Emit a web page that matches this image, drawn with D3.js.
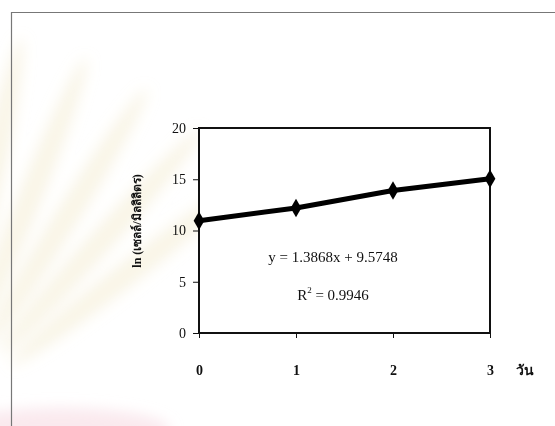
<!DOCTYPE html>
<html>
<head>
<meta charset="utf-8">
<script src="https://cdn.jsdelivr.net/npm/d3@7"></script>
<style>
  body { margin: 0; background: #fff; }
  svg { display: block; }
  text { font-family: "Liberation Serif", "Times New Roman", serif; }
</style>
</head>
<body>
<svg id="svg" width="555" height="426"></svg>
<script>
// day number and ln(cells/ml)
const days = [0, 1, 2, 3];
const lnCells = [10.95, 12.2, 13.9, 15.05];
const yTicks = [0, 5, 10, 15, 20];
const equation = 'y = 1.3868x + 9.5748';
const rSquared = '0.9946';
const xTitle = 'วัน';
const yTitle = 'ln (เซลล์/มิลลิลิตร)';

// faint watermark rays behind the page
const rayAngles = [-108, -98, -88, -78, -68, -58, -48, -38];

const svg = d3.select('#svg');

/*********************
 * background
 *********************/
const defs = svg.append('defs');
defs.append('filter').attr('id', 'blur')
  .attr('x', '-50%').attr('y', '-50%').attr('width', '200%').attr('height', '200%')
  .append('feGaussianBlur').attr('stdDeviation', 7);

const wm = svg.append('g').attr('filter', 'url(#blur)');
wm.selectAll('ellipse')
  .data(rayAngles)
  .enter()
  .append('ellipse')
  .attr('cx', 240).attr('cy', 0)
  .attr('rx', 150).attr('ry', 12)
  .attr('fill', '#f1e6c2')
  .attr('opacity', 0.4)
  .attr('transform', d => `translate(-60,420) rotate(${d})`);
wm.append('ellipse')
  .attr('cx', 60).attr('cy', 430).attr('rx', 110).attr('ry', 22)
  .attr('fill', '#f6dbe2').attr('opacity', 0.6);

// scanned page frame
svg.append('path')
  .attr('d', 'M11.5,426 V12.5 H555')
  .attr('fill', 'none')
  .attr('stroke', '#777')
  .attr('stroke-width', 1.2);

/*********************
 * chart
 *********************/
const x = d3.scaleLinear().domain([0, 3]).range([199, 490]);
const y = d3.scaleLinear().domain([0, 20]).range([333, 128]);

// plot frame
svg.append('rect')
  .attr('x', x(0)).attr('y', y(20))
  .attr('width', x(3) - x(0)).attr('height', y(0) - y(20))
  .attr('fill', '#fff')
  .attr('stroke', '#111')
  .attr('stroke-width', 2);

const bottomAxis = d3.axisBottom(x).tickValues(days).tickSize(5).tickPadding(27).tickFormat(d3.format('d'));
const leftAxis = d3.axisLeft(y).tickValues(yTicks).tickSize(6).tickPadding(7);

const gx = svg.append('g').attr('transform', `translate(0,${y(0)})`).call(bottomAxis);
const gy = svg.append('g').attr('transform', `translate(${x(0)},0)`).call(leftAxis);
[gx, gy].forEach(g => {
  g.select('.domain').remove();
  g.selectAll('line').attr('stroke', '#111').attr('stroke-width', 1);
  g.selectAll('text')
    .attr('fill', '#111')
    .style('font-family', '"Liberation Serif", serif')
    .style('font-size', '14px');
});
gx.selectAll('text').style('font-weight', 'bold');

const pts = days.map((d, i) => [d, lnCells[i]]);

svg.append('path')
  .datum(pts)
  .attr('fill', 'none')
  .attr('stroke', '#000')
  .attr('stroke-width', 5)
  .attr('stroke-linejoin', 'round')
  .attr('d', d3.line().x(d => x(d[0])).y(d => y(d[1])));

svg.selectAll('.pt')
  .data(pts)
  .enter()
  .append('path')
  .attr('class', 'pt')
  .attr('d', d3.symbol(d3.symbolDiamond, 100))
  .attr('fill', '#000')
  .attr('transform', d => `translate(${x(d[0])},${y(d[1])})`);

// trendline label
svg.append('text')
  .attr('x', 333).attr('y', 262)
  .attr('text-anchor', 'middle')
  .attr('fill', '#111')
  .style('font-size', '15px')
  .text(equation);

const r2 = svg.append('text')
  .attr('x', 333).attr('y', 300)
  .attr('text-anchor', 'middle')
  .attr('fill', '#111')
  .style('font-size', '15px');
r2.append('tspan').text('R');
r2.append('tspan').attr('dy', -7).style('font-size', '9px').text('2');
r2.append('tspan').attr('dy', 7).text(' = ' + rSquared);

// axis titles
svg.append('text')
  .attr('x', 525).attr('y', 375)
  .attr('text-anchor', 'middle')
  .attr('fill', '#111')
  .style('font-size', '14px')
  .style('font-weight', 'bold')
  .text(xTitle);

svg.append('text')
  .attr('transform', 'translate(141,221) rotate(-90)')
  .attr('text-anchor', 'middle')
  .attr('fill', '#111')
  .style('font-size', '12px')
  .style('font-weight', 'bold')
  .text(yTitle);
</script>
</body>
</html>
